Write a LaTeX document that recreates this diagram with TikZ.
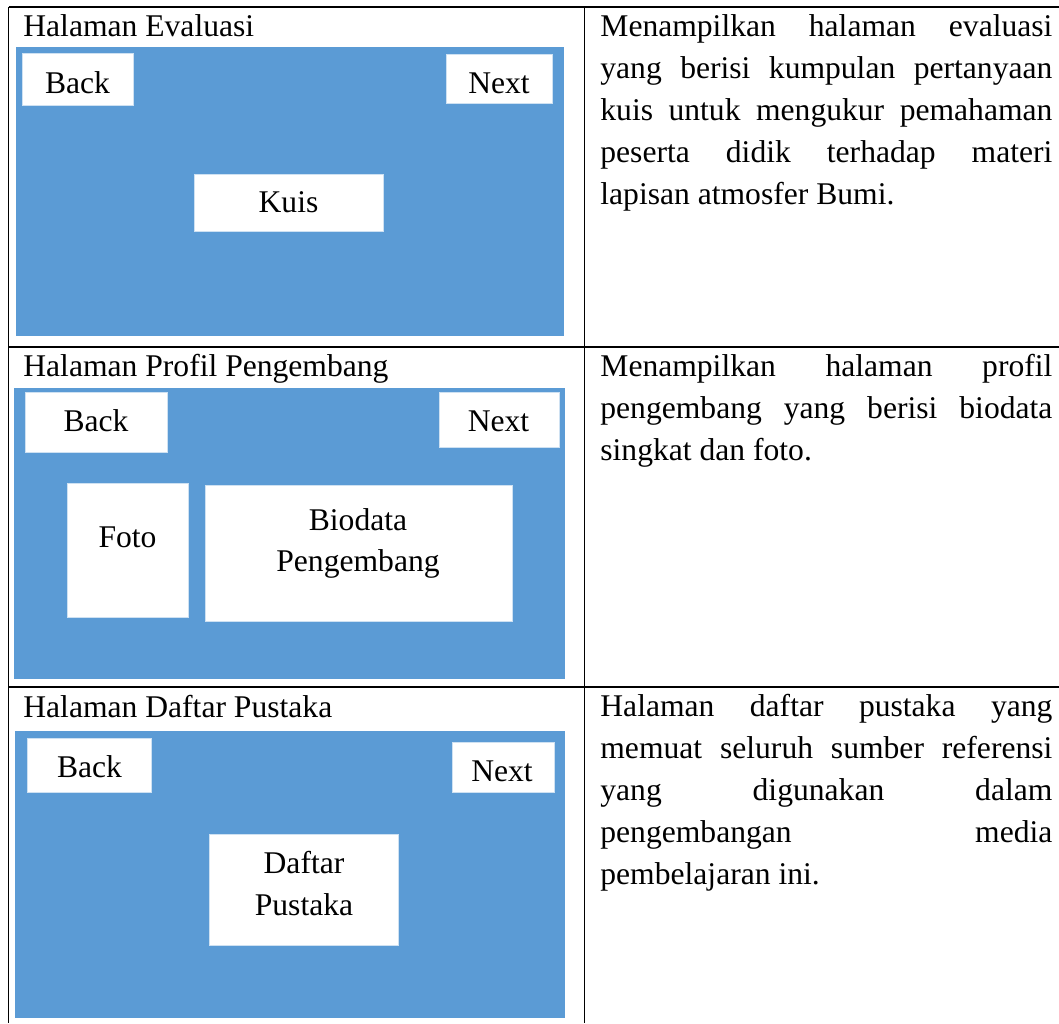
\documentclass[tikz,border=0pt]{standalone}
\usepackage{fontspec}
\setmainfont{Liberation Serif}
\usetikzlibrary{positioning}
\definecolor{birulayar}{HTML}{5B9BD5}
\tikzstyle{garis} = [black, line width=0.8pt]
\tikzstyle{layar} = [fill=birulayar]
\tikzstyle{tombol} = [fill=white, draw=birulayar!30, line width=0.4pt]
\tikzstyle{teks} = [inner sep=0pt, anchor=base, font=\fontsize{15.8}{21}\selectfont]
\tikzstyle{judul} = [teks, anchor=base west]
\tikzstyle{keterangan} = [teks, anchor=base west, text width=226pt, align=justify, execute at begin node={\tolerance=10000\hbadness=10000}]

\begin{document}
\begin{tikzpicture}[x=0.5pt, y=-0.5pt]
	\useasboundingbox (0,0) rectangle (1059,1023);
	% garis tabel
	\draw[garis] (8.5,7) -- (1059,7);
	\draw[garis] (8.5,347) -- (1059,347);
	\draw[garis] (8.5,687) -- (1059,687);
	\draw[garis] (8.5,7) -- (8.5,1023);
	\draw[garis] (584.5,7) -- (584.5,1023);

	% baris 1: halaman evaluasi
	\node[judul] (judulEvaluasi) at (23,36) {Halaman Evaluasi};
	\fill[layar] (16,47) rectangle (564,336);
	\filldraw[tombol] (22,53) rectangle (133,105);
	\filldraw[tombol] (446,54) rectangle (552,103);
	\filldraw[tombol] (194,174) rectangle (383,231);
	\node[teks] (backEvaluasi) at (77.5,93) {Back};
	\node[teks] (nextEvaluasi) at (499,93) {Next};
	\node[teks] (kuis) at (288.5,212) {Kuis};
	\node[keterangan] (ketEvaluasi) at (600,36) {Menampilkan halaman evaluasi\linebreak yang berisi kumpulan pertanyaan\linebreak kuis untuk mengukur pemahaman\linebreak peserta didik terhadap materi\linebreak lapisan atmosfer Bumi.};

	% baris 2: halaman profil pengembang
	\node[judul] (judulProfil) at (23,376) {Halaman Profil Pengembang};
	\fill[layar] (14,388) rectangle (565,679);
	\filldraw[tombol] (25,392) rectangle (167,452);
	\filldraw[tombol] (439,392) rectangle (559,447);
	\filldraw[tombol] (67,483) rectangle (188,617);
	\filldraw[tombol] (205,485) rectangle (512,621);
	\node[teks] (backProfil) at (96,431) {Back};
	\node[teks] (nextProfil) at (498.5,431) {Next};
	\node[teks] (foto) at (127.5,547) {Foto};
	\node[teks] (biodata) at (358,530) {Biodata};
	\node[teks] (pengembang) at (358,571) {Pengembang};
	\node[keterangan] (ketProfil) at (600,376) {Menampilkan halaman profil\linebreak pengembang yang berisi biodata\linebreak singkat dan foto.};

	% baris 3: halaman daftar pustaka
	\node[judul] (judulPustaka) at (23,717) {Halaman Daftar Pustaka};
	\fill[layar] (14.5,731) rectangle (565,1018);
	\filldraw[tombol] (27,738) rectangle (151,792);
	\filldraw[tombol] (452,742) rectangle (554,792);
	\filldraw[tombol] (209,834) rectangle (398,945);
	\node[teks] (backPustaka) at (89.5,777) {Back};
	\node[teks] (nextPustaka) at (502,781) {Next};
	\node[teks] (daftar) at (304,873) {Daftar};
	\node[teks] (pustaka) at (304,915) {Pustaka};
	\node[keterangan] (ketPustaka) at (600,716) {Halaman daftar pustaka yang\linebreak memuat seluruh sumber referensi\linebreak yang digunakan dalam\linebreak pengembangan media\linebreak pembelajaran ini.};
\end{tikzpicture}
\end{document}
